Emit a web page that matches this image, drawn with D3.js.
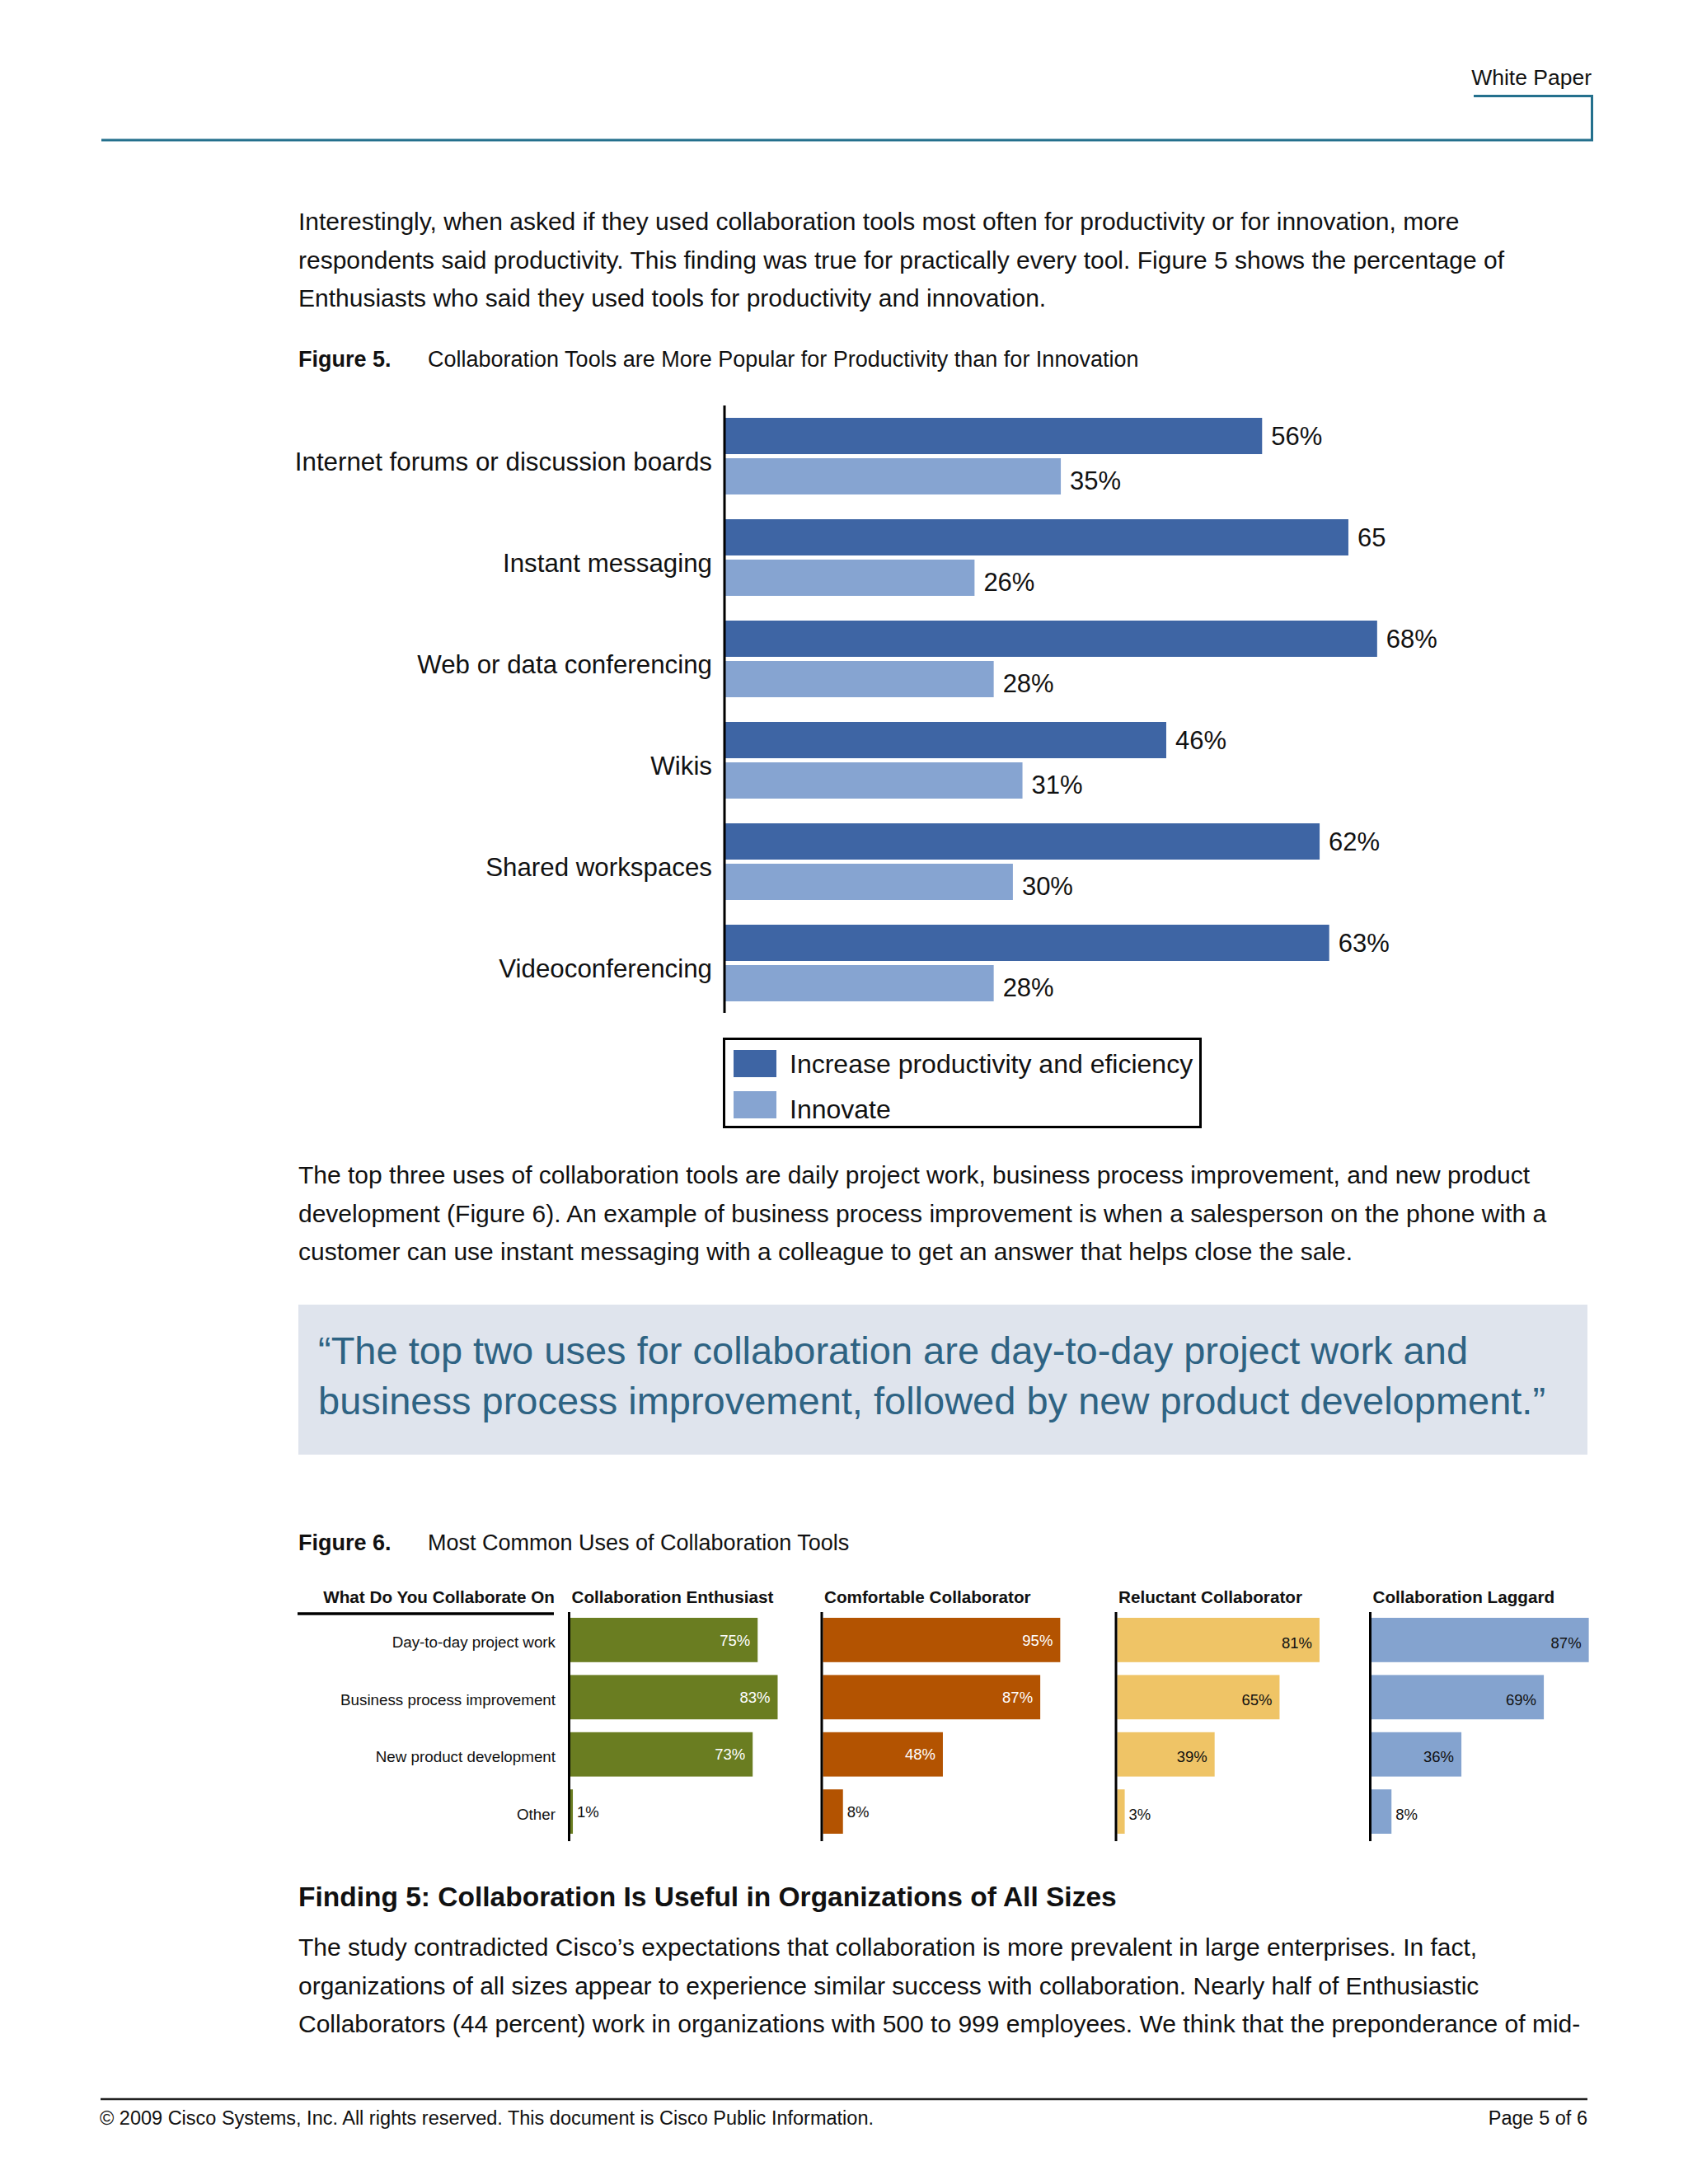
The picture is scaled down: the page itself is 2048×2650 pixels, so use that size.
<!DOCTYPE html>
<html><head><meta charset="utf-8">
<script src="https://cdn.jsdelivr.net/npm/d3@7"></script>
<style>
body{margin:0;background:#fff}
svg{display:block}
text{font-family:"Liberation Sans",Arial,Helvetica,sans-serif}
</style>
</head><body>
<svg id="page" width="2048" height="2650"></svg>
<script>
// ---------- Figure 5 data ----------
const tools = ["Internet forums or discussion boards","Instant messaging","Web or data conferencing","Wikis","Shared workspaces","Videoconferencing"];
const productivity = [56,65,68,46,62,63];
const innovate = [35,26,28,31,30,28];
const productivityLabels = ["56%","65","68%","46%","62%","63%"];
const innovateLabels = ["35%","26%","28%","31%","30%","28%"];
const seriesNames = ["Increase productivity and eficiency","Innovate"];

// ---------- Figure 6 data ----------
const uses = ["Day-to-day project work","Business process improvement","New product development","Other"];
const segments = ["Collaboration Enthusiast","Comfortable Collaborator","Reluctant Collaborator","Collaboration Laggard"];
const enthusiast = [75,83,73,1];
const comfortable = [95,87,48,8];
const reluctant = [81,65,39,3];
const laggard = [87,69,36,8];
const rowHeader = "What Do You Collaborate On";

// ---------- page text ----------
const para1 = ["Interestingly, when asked if they used collaboration tools most often for productivity or for innovation, more",
"respondents said productivity. This finding was true for practically every tool. Figure 5 shows the percentage of",
"Enthusiasts who said they used tools for productivity and innovation."];
const para2 = ["The top three uses of collaboration tools are daily project work, business process improvement, and new product",
"development (Figure 6). An example of business process improvement is when a salesperson on the phone with a",
"customer can use instant messaging with a colleague to get an answer that helps close the sale."];
const quote = ["\u201CThe top two uses for collaboration are day-to-day project work and",
"business process improvement, followed by new product development.\u201D"];
const para3 = ["The study contradicted Cisco\u2019s expectations that collaboration is more prevalent in large enterprises. In fact,",
"organizations of all sizes appear to experience similar success with collaboration. Nearly half of Enthusiastic",
"Collaborators (44 percent) work in organizations with 500 to 999 employees. We think that the preponderance of mid-"];

const svg = d3.select("#page");
const TEAL = "#24708d", INK = "#111";
const BODY = 30;

// ---------- header ----------
svg.append("text").attr("x",1931).attr("y",103).attr("text-anchor","end")
  .attr("font-size",26.5).attr("fill",INK).text("White Paper");
svg.append("path").attr("d","M1788,116.5 H1931.5 V170 H123").attr("fill","none")
  .attr("stroke",TEAL).attr("stroke-width",3);

function lines(arr, x, y0, step, size, opts={}){
  arr.forEach((t,i)=>{
    svg.append("text").attr("x",x).attr("y",y0+i*step).attr("font-size",size)
      .attr("fill",opts.fill||INK).attr("font-weight",opts.weight||"normal").text(t);
  });
}
lines(para1, 362, 279, 46.7, BODY);
svg.append("text").attr("x",362).attr("y",445).attr("font-size",27).attr("font-weight","bold").attr("fill",INK).text("Figure 5.");
svg.append("text").attr("x",519).attr("y",445).attr("font-size",27).attr("fill",INK).text("Collaboration Tools are More Popular for Productivity than for Innovation");

// ---------- Figure 5 chart ----------
const f5 = svg.append("g");
const x5 = d3.scaleLinear().domain([0,100]).range([880,880+1163]);
const y5 = d3.scaleBand().domain(tools).range([507,1215]).paddingInner(30/123).paddingOuter(0);
const s5 = d3.scaleBand().domain(seriesNames).range([0,y5.bandwidth()]).paddingInner(0.102);
const c5 = d3.scaleOrdinal().domain(seriesNames).range(["#3e65a4","#86a4d1"]);
const rows5 = tools.map((t,i)=>({tool:t, vals:[
  {s:seriesNames[0], v:productivity[i], lab:productivityLabels[i], dy:0},
  {s:seriesNames[1], v:innovate[i], lab:innovateLabels[i], dy:5}]}));
const g5 = f5.selectAll("g.grp").data(rows5).join("g").attr("transform",d=>`translate(0,${y5(d.tool)})`);
g5.selectAll("rect").data(d=>d.vals).join("rect")
  .attr("x",x5(0)).attr("y",d=>s5(d.s)).attr("width",d=>x5(d.v)-x5(0)).attr("height",s5.bandwidth())
  .attr("fill",d=>c5(d.s));
g5.selectAll("text.val").data(d=>d.vals).join("text").attr("class","val")
  .attr("x",d=>x5(d.v)+11).attr("y",d=>s5(d.s)+s5.bandwidth()/2+d.dy).attr("dy","0.36em")
  .attr("font-size",31).attr("fill",INK).text(d=>d.lab);
// category axis
const ax5 = f5.append("g").attr("transform","translate(879,0)")
  .call(d3.axisLeft(y5).tickSize(0).tickPadding(15));
ax5.select(".domain").remove();
ax5.selectAll("text").attr("font-size",31.3).attr("fill",INK).attr("font-family","Liberation Sans, Arial, sans-serif")
  .attr("dy","0.55em");
f5.append("line").attr("x1",879).attr("x2",879).attr("y1",492).attr("y2",1229).attr("stroke","#000").attr("stroke-width",3);
// legend
const lg = f5.append("g");
lg.append("rect").attr("x",878.5).attr("y",1260.5).attr("width",578).attr("height",107).attr("fill","#fff").attr("stroke","#000").attr("stroke-width",3);
seriesNames.forEach((s,i)=>{
  lg.append("rect").attr("x",890).attr("y",1274+i*50).attr("width",52).attr("height",33).attr("fill",c5(s));
  lg.append("text").attr("x",958).attr("y",1290+i*55).attr("dy","0.36em").attr("font-size",32).attr("fill",INK).text(s);
});

// ---------- paragraph 2 and quote ----------
lines(para2, 362, 1436, 46.7, BODY);
svg.append("rect").attr("x",362).attr("y",1583).attr("width",1564).attr("height",182).attr("fill","#dfe4ed");
lines(quote, 386, 1655, 61, 47, {fill:"#2e6383"});

// ---------- Figure 6 ----------
svg.append("text").attr("x",362).attr("y",1881).attr("font-size",27).attr("font-weight","bold").attr("fill",INK).text("Figure 6.");
svg.append("text").attr("x",519).attr("y",1881).attr("font-size",27).attr("fill",INK).text("Most Common Uses of Collaboration Tools");

const f6 = svg.append("g");
const segData = [enthusiast, comfortable, reluctant, laggard];
const segAxisX = [690.5, 997, 1354, 1662.5];
const segColors = ["#6a7d21","#b35301","#efc466","#84a3cf"];
const segLabelColors = ["#fff","#fff","#111","#111"];
const y6 = d3.scaleBand().domain(uses).range([1963,2225]).paddingInner(15.5/69).paddingOuter(0);

f6.append("text").attr("x",673).attr("y",1945).attr("text-anchor","end").attr("font-size",20.7).attr("font-weight","bold").attr("fill",INK).text(rowHeader);
f6.append("line").attr("x1",361).attr("x2",672).attr("y1",1958).attr("y2",1958).attr("stroke","#000").attr("stroke-width",3.5);
const ax6 = f6.append("g").attr("transform","translate(674,0)").call(d3.axisLeft(y6).tickSize(0).tickPadding(0));
ax6.select(".domain").remove();
ax6.selectAll("text").attr("font-size",18.8).attr("fill",INK).attr("font-family","Liberation Sans, Arial, sans-serif").attr("dy","0.5em");

segments.forEach((seg,k)=>{
  const ax = segAxisX[k];
  const x6 = d3.scaleLinear().domain([0,100]).range([ax+1.5, ax+1.5+303]);
  const g = f6.append("g");
  g.append("text").attr("x",ax+3).attr("y",1945).attr("font-size",20.7).attr("font-weight","bold").attr("fill",INK).text(seg);
  const rows = uses.map((u,i)=>({u, v:segData[k][i]}));
  g.selectAll("rect").data(rows).join("rect")
    .attr("x",x6(0)).attr("y",d=>y6(d.u)).attr("width",d=>x6(d.v)-x6(0)).attr("height",y6.bandwidth())
    .attr("fill",segColors[k]);
  g.selectAll("text.v").data(rows).join("text").attr("class","v")
    .attr("x",d=>d.v<15 ? x6(d.v)+5 : x6(d.v)-9)
    .attr("text-anchor",d=>d.v<15 ? "start" : "end")
    .attr("y",d=>y6(d.u)+y6.bandwidth()/2+(k>=2?3:0)).attr("dy","0.36em")
    .attr("font-size",18.5).attr("fill",d=>d.v<15 ? INK : segLabelColors[k]).text(d=>d.v+"%");
  g.append("line").attr("x1",ax).attr("x2",ax).attr("y1",1956).attr("y2",2234).attr("stroke","#000").attr("stroke-width",3);
});

// ---------- Finding 5 ----------
svg.append("text").attr("x",362).attr("y",2313).attr("font-size",33.5).attr("font-weight","bold").attr("fill",INK)
  .text("Finding 5: Collaboration Is Useful in Organizations of All Sizes");
lines(para3, 362, 2373, 46.7, BODY);

// ---------- footer ----------
svg.append("line").attr("x1",122).attr("x2",1926).attr("y1",2547).attr("y2",2547).attr("stroke","#222").attr("stroke-width",2.5);
svg.append("text").attr("x",121).attr("y",2578).attr("font-size",23.5).attr("fill",INK).text("\u00A9 2009 Cisco Systems, Inc. All rights reserved. This document is Cisco Public Information.");
svg.append("text").attr("x",1926).attr("y",2578).attr("text-anchor","end").attr("font-size",23.5).attr("fill",INK).text("Page 5 of 6");
</script>
</body></html>
